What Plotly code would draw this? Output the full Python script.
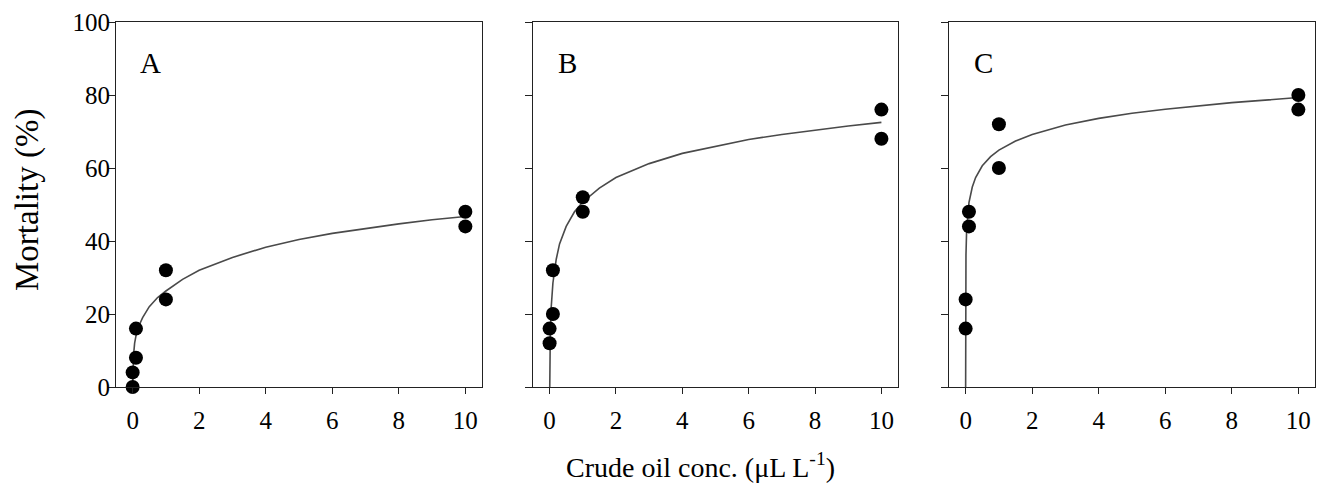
import plotly.graph_objects as go

# ---- data ----
panel_labels = ["A", "B", "C"]
conc = [0, 0, 0.1, 0.1, 1, 1, 10, 10]
mortality_A = [0, 4, 8, 16, 24, 32, 44, 48]
mortality_B = [12, 16, 20, 32, 48, 52, 68, 76]
mortality_C = [16, 24, 44, 48, 60, 72, 76, 80]

# fitted curves
curve_x_A = [0, 0.01, 0.03, 0.06, 0.1, 0.2, 0.3, 0.5, 0.75, 1, 1.5, 2, 3, 4, 5, 6, 7, 8, 9, 10]
curve_y_A = [0, 5, 9, 12, 14, 17, 19, 22, 24.5, 26.3, 29.5, 32, 35.5, 38.3, 40.4, 42.1, 43.5, 44.7, 45.8, 46.7]
curve_x_B = [0.005, 0.01, 0.02, 0.05, 0.1, 0.2, 0.3, 0.5, 0.75, 1, 1.5, 2, 3, 4, 5, 6, 7, 8, 9, 10]
curve_y_B = [0, 6, 13, 22, 28.5, 35, 39.2, 44, 48, 50.7, 54.5, 57.4, 61.2, 64, 66, 67.8, 69.2, 70.4, 71.5, 72.5]
curve_x_C = [0, 0.001, 0.003, 0.01, 0.03, 0.07, 0.1, 0.2, 0.3, 0.5, 0.75, 1, 1.5, 2, 3, 4, 5, 6, 7, 8, 9, 10]
curve_y_C = [0, 21.7, 28.6, 36.1, 43.0, 48.3, 50.5, 54.8, 57.4, 60.6, 63.1, 64.9, 67.4, 69.2, 71.8, 73.6, 75.0, 76.1, 77.1, 77.9, 78.6, 79.3]

x_ticks = [0, 2, 4, 6, 8, 10]
y_ticks = [0, 20, 40, 60, 80, 100]
x_title = "Crude oil conc. (μL L<sup>-1</sup>)"
y_title = "Mortality (%)"

FONT = "Liberation Serif"
W, H = 1319, 492
ml, mr, mt, mb = 116, 4, 22, 105
pw = W - ml - mr
ph = H - mt - mb
domains = [
    [0, (482 - ml) / pw],
    [(533 - ml) / pw, (898 - ml) / pw],
    [(949 - ml) / pw, 1.0],
]

fig = go.Figure()
points = [mortality_A, mortality_B, mortality_C]
curves = [(curve_x_A, curve_y_A), (curve_x_B, curve_y_B), (curve_x_C, curve_y_C)]

for i in range(3):
    xa = "x" if i == 0 else f"x{i+1}"
    ya = "y" if i == 0 else f"y{i+1}"
    cx, cy = curves[i]
    fig.add_trace(go.Scatter(x=cx, y=cy, mode="lines", xaxis=xa, yaxis=ya,
                             line=dict(color="#4a4a4a", width=1.6), showlegend=False,
                             cliponaxis=True))
    fig.add_trace(go.Scatter(x=conc, y=points[i], mode="markers", xaxis=xa, yaxis=ya,
                             marker=dict(color="black", size=14, line=dict(width=0)),
                             showlegend=False, cliponaxis=False))
    fig.add_annotation(x=0.55, y=88.7, xref=xa, yref=ya, text=panel_labels[i],
                       showarrow=False, xanchor="center", yanchor="middle",
                       font=dict(family=FONT, size=29, color="black"))

axis_common = dict(showline=True, linecolor="#222", linewidth=1, mirror=True,
                   ticks="outside", tickcolor="#222", showgrid=False, zeroline=False,
                   tickfont=dict(family=FONT, size=25, color="black"))

layout_axes = {}
for i in range(3):
    xk = "xaxis" if i == 0 else f"xaxis{i+1}"
    yk = "yaxis" if i == 0 else f"yaxis{i+1}"
    ya = "y" if i == 0 else f"y{i+1}"
    xa = "x" if i == 0 else f"x{i+1}"
    layout_axes[xk] = dict(axis_common, domain=domains[i], range=[-0.5, 10.5],
                           tickvals=x_ticks, ticklen=6, anchor=ya,
                           ticklabelstandoff=5)
    layout_axes[yk] = dict(axis_common, domain=[0, 1], range=[0, 100],
                           tickvals=y_ticks, ticklen=7, anchor=xa,
                           showticklabels=(i == 0), ticklabelstandoff=-7)

fig.update_layout(
    width=W, height=H,
    margin=dict(l=ml, r=mr, t=mt, b=mb),
    paper_bgcolor="white", plot_bgcolor="white",
    font=dict(family=FONT, color="black"),
    **layout_axes,
)

fig.add_annotation(x=(700 - ml) / pw, y=(387 - 465) / ph, xref="paper", yref="paper",
                   text=x_title, showarrow=False, xanchor="center", yanchor="middle",
                   font=dict(family=FONT, size=28, color="black"))
fig.add_annotation(x=(27 - ml) / pw, y=(387 - 200) / ph, xref="paper", yref="paper",
                   text=y_title, showarrow=False, textangle=-90,
                   xanchor="center", yanchor="middle",
                   font=dict(family=FONT, size=33, color="black"))

fig.write_html(
    "out.html",
    config={"displayModeBar": False},
    post_script="document.body.style.margin='0';document.body.style.overflow='hidden';",
)
